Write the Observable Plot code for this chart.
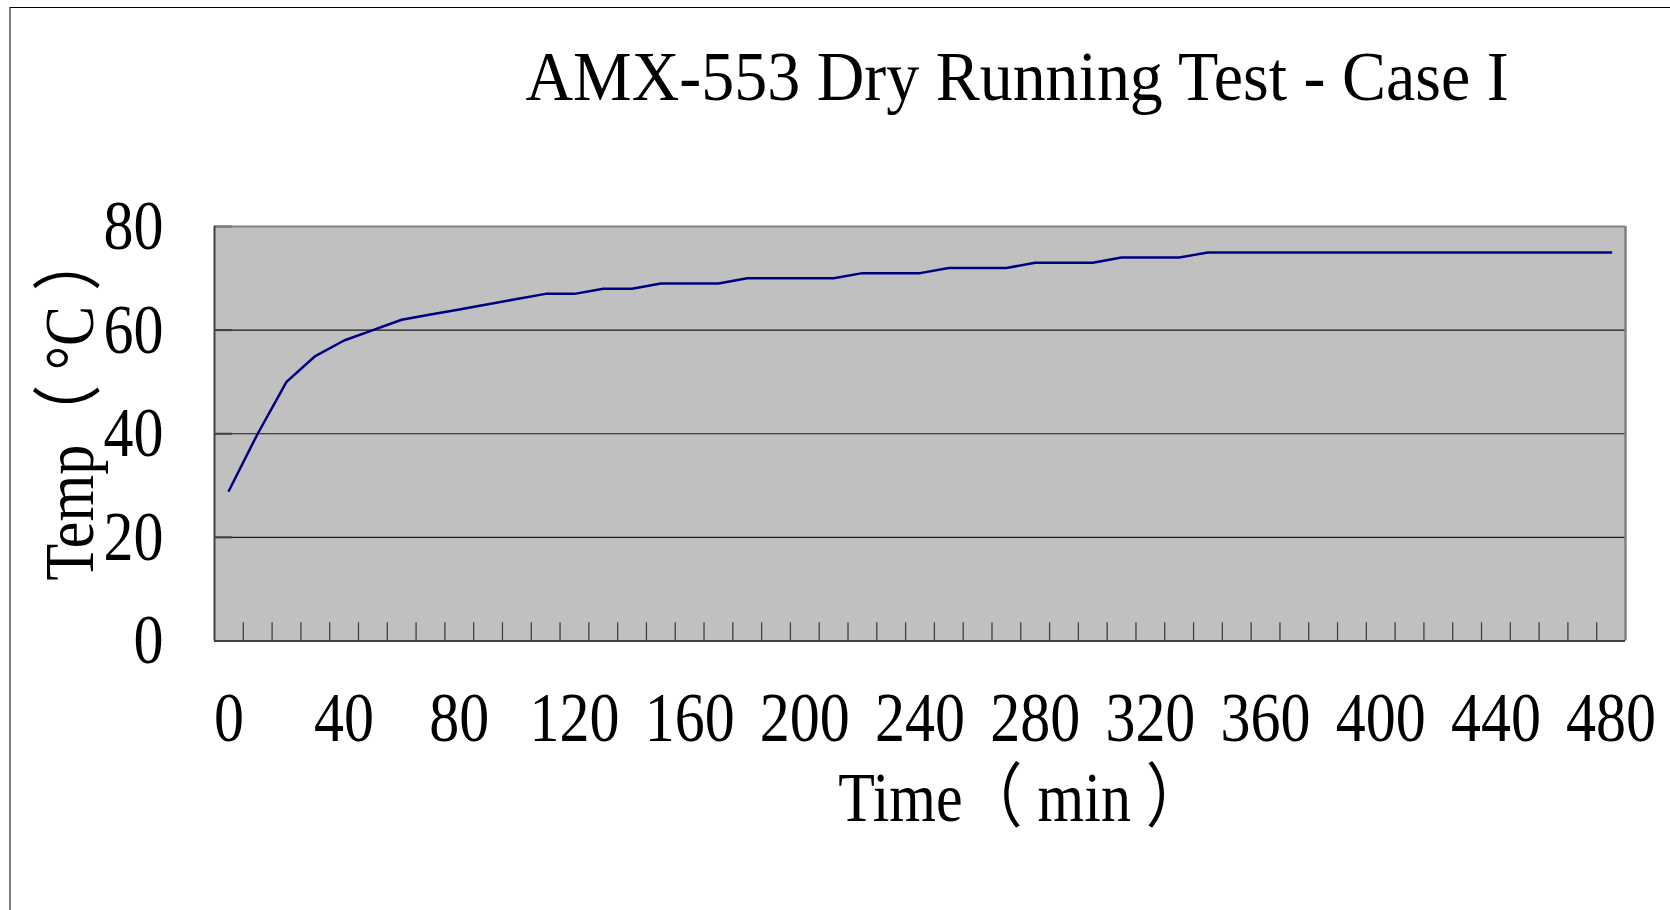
<!DOCTYPE html>
<html>
<head>
<meta charset="utf-8">
<script src="https://cdn.jsdelivr.net/npm/d3@7"></script>
<script src="https://cdn.jsdelivr.net/npm/@observablehq/plot@0.6"></script>
<style>
  body { margin: 0; background: #fff; }
  #wrap { position: relative; width: 1670px; height: 910px; overflow: hidden; background: #fff; }
  #border { position: absolute; left: 9px; top: 7px; right: -20px; bottom: -20px;
            border-left: 2px solid #808080; border-top: 1.5px solid #000; pointer-events: none; z-index: 2; }
  #chart { position: absolute; left: 0; top: 0; }
</style>
</head>
<body>
<div id="wrap"><div id="border"></div><div id="chart"></div></div>
<script>
const title = "AMX-553 Dry Running Test - Case I";
const xLabel = "Time（ min ）";
const yLabel = "Temp（ °C ）";

const timeMin = [0,10,20,30,40,50,60,70,80,90,100,110,120,130,140,150,160,170,180,190,200,210,220,230,240,250,260,270,280,290,300,310,320,330,340,350,360,370,380,390,400,410,420,430,440,450,460,470,480];
const tempC   = [29,40,50,55,58,60,62,63,64,65,66,67,67,68,68,69,69,69,70,70,70,70,71,71,71,72,72,72,73,73,73,74,74,74,75,75,75,75,75,75,75,75,75,75,75,75,75,75,75];

const xTicks = [0,40,80,120,160,200,240,280,320,360,400,440,480];
const yTicks = [0,20,40,60,80];
const yGrid  = [20,40,60];

const data = timeMin.map((t, i) => ({t, v: tempC[i]}));
const half = (timeMin[1] - timeMin[0]) / 2;
const xDomain = [timeMin[0] - half, timeMin[timeMin.length - 1] + half];
const boundaries = timeMin.slice(1).map(t => t - half);

const chart = Plot.plot({
  width: 1670,
  height: 910,
  marginTop: 226,
  marginBottom: 269.5,
  marginLeft: 214,
  marginRight: 45,
  style: {
    fontFamily: "'Liberation Serif', 'Times New Roman', 'Noto Sans CJK TC', serif",
    fontSize: "70px",
    background: "transparent",
    color: "#000",
    overflow: "visible"
  },
  x: {type: "linear", domain: xDomain, ticks: xTicks, tickSize: 0, tickPadding: 50, tickFormat: d => String(d), label: null},
  y: {domain: [0, 80], ticks: yTicks, tickSize: 0, tickPadding: 51, tickFormat: d => String(d), label: null},
  marks: [
    Plot.frame({fill: "#c0c0c0", stroke: null}),
    Plot.ruleY(yGrid, {stroke: "#1a1a1a", strokeWidth: 1.2}),
    Plot.ruleY(yTicks, {x1: xDomain[0], x2: xDomain[0] + 6.25, stroke: "#404040", strokeWidth: 2}),
    Plot.ruleX(boundaries, {y1: 0, y2: 3.5, stroke: "#404040", strokeWidth: 1.3}),
    Plot.ruleY([80], {stroke: "#808080", strokeWidth: 2}),
    Plot.ruleX([xDomain[1]], {stroke: "#808080", strokeWidth: 2.5}),
    Plot.ruleX([xDomain[0]], {stroke: "#404040", strokeWidth: 2}),
    Plot.ruleY([0], {stroke: "#404040", strokeWidth: 2}),
    Plot.line(data, {x: "t", y: "v", stroke: "#000080", strokeWidth: 2.5}),
    Plot.text([title], {frameAnchor: "top", textAnchor: "middle", dx: 97, dy: -127, lineAnchor: "bottom", fontSize: 70}),
    Plot.text([xLabel], {frameAnchor: "bottom", textAnchor: "middle", dx: 102, dy: 179.5, lineAnchor: "bottom", fontSize: 70}),
    Plot.text([yLabel], {frameAnchor: "left", textAnchor: "middle", dx: -122, dy: -28, rotate: -90, lineAnchor: "bottom", fontSize: 70})
  ]
});

document.getElementById("chart").appendChild(chart);

// Horizontally condensed glyphs as in the reference
chart.querySelectorAll("text").forEach(t => {
  const s = t.textContent === title ? 0.942 : 0.857;
  const tr = t.getAttribute("transform") || "";
  const x = +t.getAttribute("x") || 0, y = +t.getAttribute("y") || 0;
  t.setAttribute("transform", `${tr} translate(${x},${y}) scale(${s},1) translate(${-x},${-y})`);
});
</script>
</body>
</html>
